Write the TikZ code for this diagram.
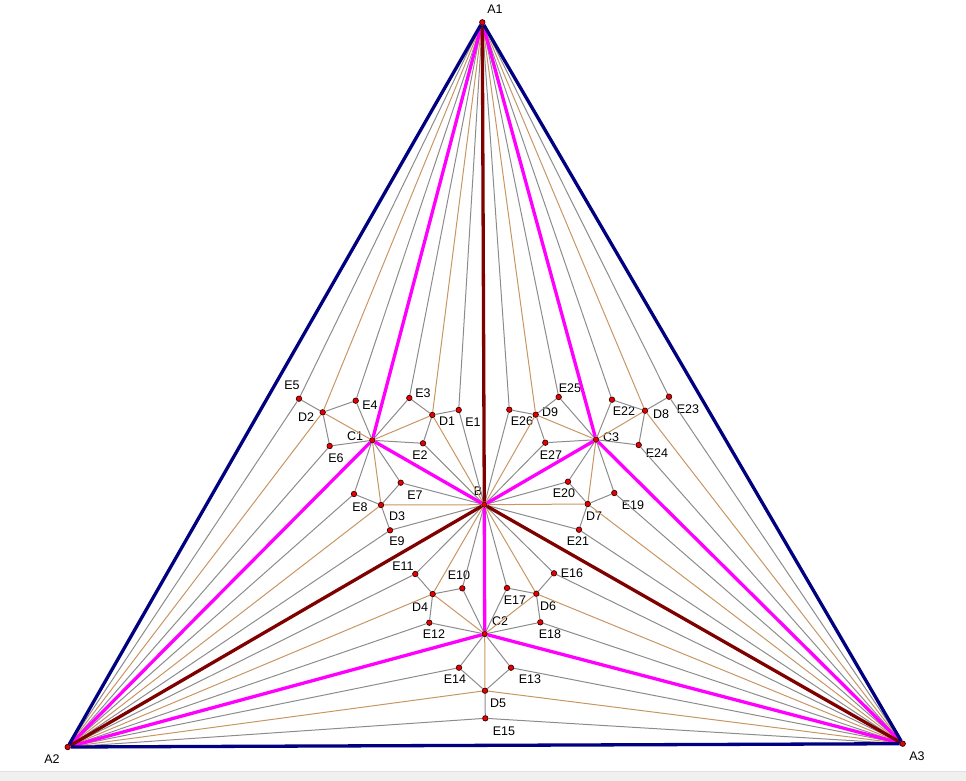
\documentclass[tikz,border=0pt]{standalone}
\usepackage{xcolor}
\usepackage{fontspec}
\setmainfont{Liberation Sans}

\definecolor{rimblue}{RGB}{0,0,128}
\definecolor{midred}{RGB}{128,0,0}
\definecolor{tanline}{RGB}{200,150,100}
\definecolor{greyline}{RGB}{140,140,140}
\definecolor{purepink}{RGB}{255,0,255}
\definecolor{dotred}{RGB}{230,0,0}

\tikzset{
  dot/.style={draw=black!80!red, line width=0.7pt, circle, fill=dotred, inner sep=0pt, minimum size=5.5pt},
  lab/.style={inner sep=0pt, font=\fontsize{12.5}{14}\selectfont, text=black},
  eline/.style={draw=greyline, line width=1pt},
  dline/.style={draw=tanline, line width=1pt},
  cline/.style={draw=purepink, line width=3.3pt},
  bline/.style={draw=midred, line width=3.3pt},
  rim/.style={draw=rimblue, line width=3.3pt}
}

\begin{document}
\begin{tikzpicture}[x=1pt, y=-1pt]
\useasboundingbox (0,0) rectangle (966,781);
\fill[black!6] (0,772) rectangle (966,781);
\draw[black!12, line width=0.8pt] (0,771.5) -- (966,771.5);

\node[dot] (A1) at (482.3,22.3) {};
\node[dot] (A2) at (67.7,747) {};
\node[dot] (A3) at (902.7,743.7) {};
\node[dot] (B) at (484.3,504.7) {};
\node[dot] (C1) at (372.3,440.3) {};
\node[dot] (C2) at (484.7,634) {};
\node[dot] (C3) at (596,439.7) {};
\node[dot] (D1) at (432.3,415) {};
\node[dot] (D2) at (322.7,412.3) {};
\node[dot] (D3) at (381,505) {};
\node[dot] (D4) at (432.7,594) {};
\node[dot] (D5) at (485,690.7) {};
\node[dot] (D6) at (536.3,593.7) {};
\node[dot] (D7) at (587.7,504) {};
\node[dot] (D8) at (645,410.7) {};
\node[dot] (D9) at (535.7,414.7) {};
\node[dot] (E1) at (458.7,410) {};
\node[dot] (E2) at (423,443.3) {};
\node[dot] (E3) at (409.3,398) {};
\node[dot] (E4) at (355.7,400.7) {};
\node[dot] (E5) at (299,398.7) {};
\node[dot] (E6) at (329.7,446) {};
\node[dot] (E7) at (400.7,482.7) {};
\node[dot] (E8) at (354,494) {};
\node[dot] (E9) at (390,530.3) {};
\node[dot] (E10) at (462.3,588.3) {};
\node[dot] (E11) at (415.3,574) {};
\node[dot] (E12) at (429.3,622.7) {};
\node[dot] (E13) at (511,667.7) {};
\node[dot] (E14) at (459,667.7) {};
\node[dot] (E15) at (485.3,718.3) {};
\node[dot] (E16) at (554,573.3) {};
\node[dot] (E17) at (507,588) {};
\node[dot] (E18) at (540.3,622.3) {};
\node[dot] (E19) at (614.3,493) {};
\node[dot] (E20) at (568,481.7) {};
\node[dot] (E21) at (579,529.7) {};
\node[dot] (E22) at (612,399.7) {};
\node[dot] (E23) at (669,396.7) {};
\node[dot] (E24) at (638.7,445) {};
\node[dot] (E25) at (558.7,397) {};
\node[dot] (E26) at (509.3,409.7) {};
\node[dot] (E27) at (545.3,442.7) {};

\node[lab] (lA1) at (495,9) {A1};
\node[lab] (lA2) at (52,759) {A2};
\node[lab] (lA3) at (917,756) {A3};
\node[lab] (lB) at (478,491) {B};
\node[lab] (lC1) at (355,436) {C1};
\node[lab] (lC2) at (500,621) {C2};
\node[lab] (lC3) at (611,437) {C3};
\node[lab] (lD1) at (447,421) {D1};
\node[lab] (lD2) at (306,417) {D2};
\node[lab] (lD3) at (397,516) {D3};
\node[lab] (lD4) at (420,607) {D4};
\node[lab] (lD5) at (498,703) {D5};
\node[lab] (lD6) at (548,606) {D6};
\node[lab] (lD7) at (594,516) {D7};
\node[lab] (lD8) at (661,414) {D8};
\node[lab] (lD9) at (550,412) {D9};
\node[lab] (lE1) at (473,422) {E1};
\node[lab] (lE2) at (420,455) {E2};
\node[lab] (lE3) at (423,393) {E3};
\node[lab] (lE4) at (370,405) {E4};
\node[lab] (lE5) at (292,385) {E5};
\node[lab] (lE6) at (336,458) {E6};
\node[lab] (lE7) at (415,495) {E7};
\node[lab] (lE8) at (360,507) {E8};
\node[lab] (lE9) at (397,541) {E9};
\node[lab] (lE10) at (459,575) {E10};
\node[lab] (lE11) at (403,566) {E11};
\node[lab] (lE12) at (434,634) {E12};
\node[lab] (lE13) at (530,679) {E13};
\node[lab] (lE14) at (455,679) {E14};
\node[lab] (lE15) at (504,731) {E15};
\node[lab] (lE16) at (572,573) {E16};
\node[lab] (lE17) at (515,600) {E17};
\node[lab] (lE18) at (550,634) {E18};
\node[lab] (lE19) at (633,505) {E19};
\node[lab] (lE20) at (564,493) {E20};
\node[lab] (lE21) at (578,541) {E21};
\node[lab] (lE22) at (624,411) {E22};
\node[lab] (lE23) at (688,409) {E23};
\node[lab] (lE24) at (657,453) {E24};
\node[lab] (lE25) at (570,388) {E25};
\node[lab] (lE26) at (522,421) {E26};
\node[lab] (lE27) at (551,455) {E27};

\draw[eline] (E1) -- (A1) (E1) -- (B) (E1) -- (D1);
\draw[eline] (E2) -- (B) (E2) -- (C1) (E2) -- (D1);
\draw[eline] (E3) -- (A1) (E3) -- (C1) (E3) -- (D1);
\draw[eline] (E4) -- (A1) (E4) -- (C1) (E4) -- (D2);
\draw[eline] (E5) -- (A1) (E5) -- (A2) (E5) -- (D2);
\draw[eline] (E6) -- (A2) (E6) -- (C1) (E6) -- (D2);
\draw[eline] (E7) -- (B) (E7) -- (C1) (E7) -- (D3);
\draw[eline] (E8) -- (A2) (E8) -- (C1) (E8) -- (D3);
\draw[eline] (E9) -- (A2) (E9) -- (B) (E9) -- (D3);
\draw[eline] (E10) -- (B) (E10) -- (C2) (E10) -- (D4);
\draw[eline] (E11) -- (A2) (E11) -- (B) (E11) -- (D4);
\draw[eline] (E12) -- (A2) (E12) -- (C2) (E12) -- (D4);
\draw[eline] (E13) -- (A3) (E13) -- (C2) (E13) -- (D5);
\draw[eline] (E14) -- (A2) (E14) -- (C2) (E14) -- (D5);
\draw[eline] (E15) -- (A2) (E15) -- (A3) (E15) -- (D5);
\draw[eline] (E16) -- (A3) (E16) -- (B) (E16) -- (D6);
\draw[eline] (E17) -- (B) (E17) -- (C2) (E17) -- (D6);
\draw[eline] (E18) -- (A3) (E18) -- (C2) (E18) -- (D6);
\draw[eline] (E19) -- (A3) (E19) -- (C3) (E19) -- (D7);
\draw[eline] (E20) -- (B) (E20) -- (C3) (E20) -- (D7);
\draw[eline] (E21) -- (A3) (E21) -- (B) (E21) -- (D7);
\draw[eline] (E22) -- (A1) (E22) -- (C3) (E22) -- (D8);
\draw[eline] (E23) -- (A1) (E23) -- (A3) (E23) -- (D8);
\draw[eline] (E24) -- (A3) (E24) -- (C3) (E24) -- (D8);
\draw[eline] (E25) -- (A1) (E25) -- (C3) (E25) -- (D9);
\draw[eline] (E26) -- (A1) (E26) -- (B) (E26) -- (D9);
\draw[eline] (E27) -- (B) (E27) -- (C3) (E27) -- (D9);

\draw[dline] (D1) -- (A1) (D1) -- (B) (D1) -- (C1);
\draw[dline] (D2) -- (A1) (D2) -- (A2) (D2) -- (C1);
\draw[dline] (D3) -- (A2) (D3) -- (B) (D3) -- (C1);
\draw[dline] (D4) -- (A2) (D4) -- (B) (D4) -- (C2);
\draw[dline] (D5) -- (A2) (D5) -- (A3) (D5) -- (C2);
\draw[dline] (D6) -- (A3) (D6) -- (B) (D6) -- (C2);
\draw[dline] (D7) -- (A3) (D7) -- (B) (D7) -- (C3);
\draw[dline] (D8) -- (A1) (D8) -- (A3) (D8) -- (C3);
\draw[dline] (D9) -- (A1) (D9) -- (B) (D9) -- (C3);

\draw[cline] (C1) -- (A1) (C1) -- (A2) (C1) -- (B);
\draw[cline] (C2) -- (A2) (C2) -- (A3) (C2) -- (B);
\draw[cline] (C3) -- (A1) (C3) -- (A3) (C3) -- (B);

\draw[bline] (B) -- (A1);
\draw[bline] (B) -- (A2);
\draw[bline] (B) -- (A3);

\draw[rim] (A1) -- (A2);
\draw[rim] (A2) -- (A3);
\draw[rim] (A3) -- (A1);
\end{tikzpicture}
\end{document}
